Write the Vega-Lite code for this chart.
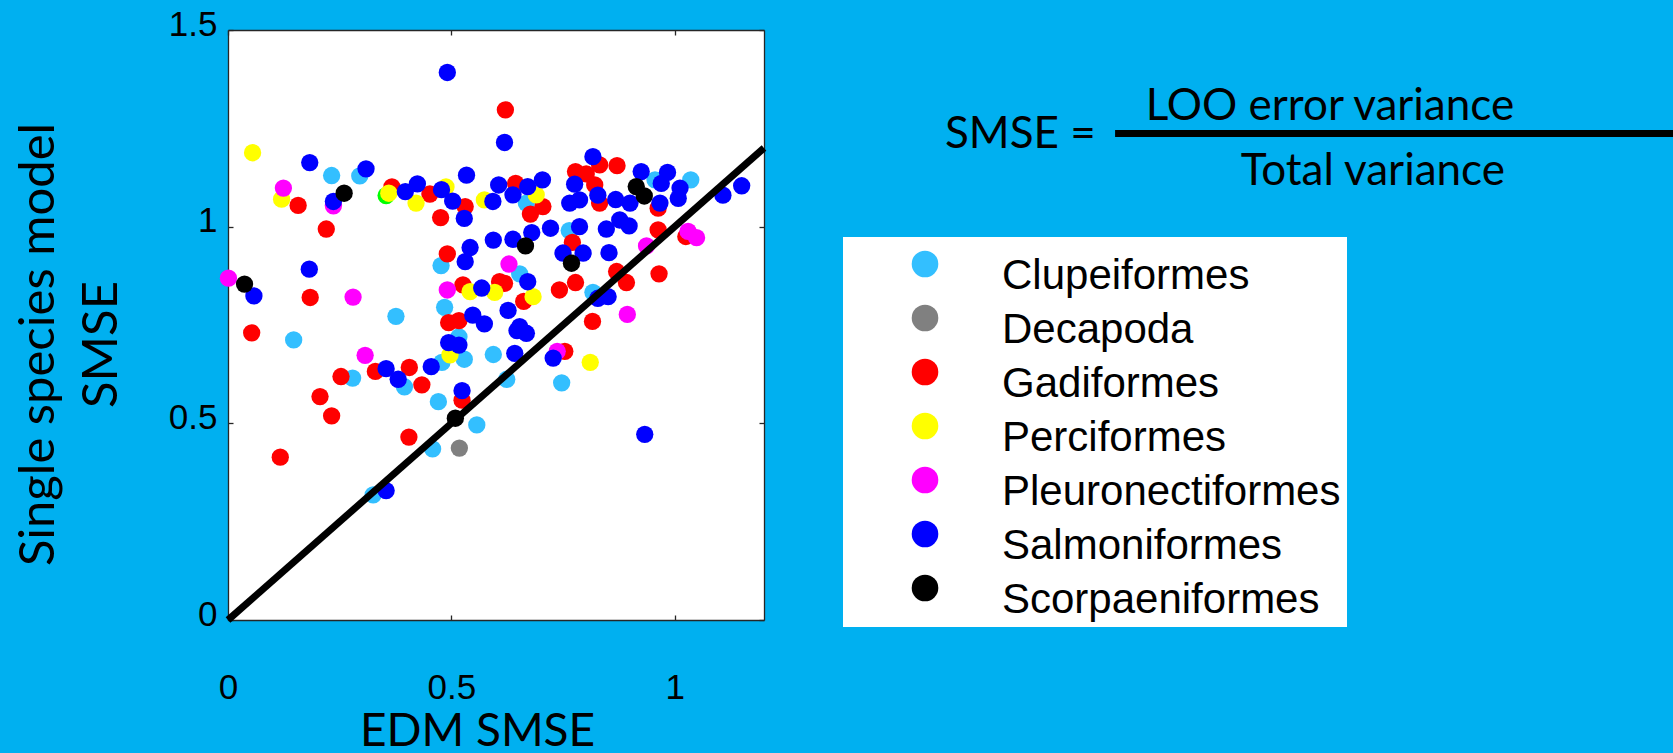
{
  "$schema": "https://vega.github.io/schema/vega-lite/v6.json",
  "width": 536,
  "height": 590,
  "autosize": "none",
  "padding": {"left": 228, "top": 30, "right": 909, "bottom": 133},
  "background": "#00B0F0",
  "config": {"view": {"fill": "white", "stroke": null}},
  "layer": [
    {
      "data": {"values": [
        {"g": "Other", "edm": 0.354, "ss": 1.079},
        {"g": "Clupeiformes", "edm": 0.232, "ss": 1.130},
        {"g": "Clupeiformes", "edm": 0.295, "ss": 1.129},
        {"g": "Clupeiformes", "edm": 0.376, "ss": 0.772},
        {"g": "Clupeiformes", "edm": 0.147, "ss": 0.712},
        {"g": "Clupeiformes", "edm": 0.477, "ss": 0.901},
        {"g": "Clupeiformes", "edm": 0.485, "ss": 0.795},
        {"g": "Clupeiformes", "edm": 0.517, "ss": 0.720},
        {"g": "Clupeiformes", "edm": 0.594, "ss": 0.675},
        {"g": "Clupeiformes", "edm": 0.279, "ss": 0.615},
        {"g": "Clupeiformes", "edm": 0.395, "ss": 0.593},
        {"g": "Clupeiformes", "edm": 0.479, "ss": 0.655},
        {"g": "Clupeiformes", "edm": 0.529, "ss": 0.663},
        {"g": "Clupeiformes", "edm": 0.624, "ss": 0.612},
        {"g": "Clupeiformes", "edm": 0.471, "ss": 0.555},
        {"g": "Clupeiformes", "edm": 0.557, "ss": 0.496},
        {"g": "Clupeiformes", "edm": 0.458, "ss": 0.435},
        {"g": "Clupeiformes", "edm": 0.325, "ss": 0.318},
        {"g": "Clupeiformes", "edm": 0.747, "ss": 0.603},
        {"g": "Clupeiformes", "edm": 0.956, "ss": 1.119},
        {"g": "Clupeiformes", "edm": 1.036, "ss": 1.119},
        {"g": "Clupeiformes", "edm": 0.668, "ss": 1.060},
        {"g": "Clupeiformes", "edm": 0.764, "ss": 0.990},
        {"g": "Clupeiformes", "edm": 0.653, "ss": 0.880},
        {"g": "Clupeiformes", "edm": 0.817, "ss": 0.833},
        {"g": "Decapoda", "edm": 0.518, "ss": 0.437},
        {"g": "Gadiformes", "edm": 0.157, "ss": 1.054},
        {"g": "Gadiformes", "edm": 0.220, "ss": 0.994},
        {"g": "Gadiformes", "edm": 0.367, "ss": 1.101},
        {"g": "Gadiformes", "edm": 0.452, "ss": 1.083},
        {"g": "Gadiformes", "edm": 0.531, "ss": 1.051},
        {"g": "Gadiformes", "edm": 0.476, "ss": 1.023},
        {"g": "Gadiformes", "edm": 0.621, "ss": 1.297},
        {"g": "Gadiformes", "edm": 0.184, "ss": 0.820},
        {"g": "Gadiformes", "edm": 0.053, "ss": 0.730},
        {"g": "Gadiformes", "edm": 0.491, "ss": 0.931},
        {"g": "Gadiformes", "edm": 0.526, "ss": 0.852},
        {"g": "Gadiformes", "edm": 0.608, "ss": 0.860},
        {"g": "Gadiformes", "edm": 0.494, "ss": 0.756},
        {"g": "Gadiformes", "edm": 0.517, "ss": 0.761},
        {"g": "Gadiformes", "edm": 0.253, "ss": 0.619},
        {"g": "Gadiformes", "edm": 0.330, "ss": 0.632},
        {"g": "Gadiformes", "edm": 0.406, "ss": 0.642},
        {"g": "Gadiformes", "edm": 0.434, "ss": 0.598},
        {"g": "Gadiformes", "edm": 0.206, "ss": 0.568},
        {"g": "Gadiformes", "edm": 0.232, "ss": 0.519},
        {"g": "Gadiformes", "edm": 0.117, "ss": 0.414},
        {"g": "Gadiformes", "edm": 0.524, "ss": 0.559},
        {"g": "Gadiformes", "edm": 0.405, "ss": 0.465},
        {"g": "Gadiformes", "edm": 0.754, "ss": 0.683},
        {"g": "Gadiformes", "edm": 0.832, "ss": 1.157},
        {"g": "Gadiformes", "edm": 0.871, "ss": 1.155},
        {"g": "Gadiformes", "edm": 0.778, "ss": 1.140},
        {"g": "Gadiformes", "edm": 0.802, "ss": 1.134},
        {"g": "Gadiformes", "edm": 0.963, "ss": 1.047},
        {"g": "Gadiformes", "edm": 0.832, "ss": 1.060},
        {"g": "Gadiformes", "edm": 0.821, "ss": 1.106},
        {"g": "Gadiformes", "edm": 0.644, "ss": 1.110},
        {"g": "Gadiformes", "edm": 0.705, "ss": 1.051},
        {"g": "Gadiformes", "edm": 0.677, "ss": 1.032},
        {"g": "Gadiformes", "edm": 0.771, "ss": 0.960},
        {"g": "Gadiformes", "edm": 0.963, "ss": 0.992},
        {"g": "Gadiformes", "edm": 1.025, "ss": 0.975},
        {"g": "Gadiformes", "edm": 0.965, "ss": 0.880},
        {"g": "Gadiformes", "edm": 0.870, "ss": 0.886},
        {"g": "Gadiformes", "edm": 0.892, "ss": 0.858},
        {"g": "Gadiformes", "edm": 0.778, "ss": 0.858},
        {"g": "Gadiformes", "edm": 0.742, "ss": 0.839},
        {"g": "Gadiformes", "edm": 0.619, "ss": 0.856},
        {"g": "Gadiformes", "edm": 0.662, "ss": 0.810},
        {"g": "Gadiformes", "edm": 0.816, "ss": 0.759},
        {"g": "Perciformes", "edm": 0.055, "ss": 1.188},
        {"g": "Perciformes", "edm": 0.120, "ss": 1.070},
        {"g": "Perciformes", "edm": 0.360, "ss": 1.085},
        {"g": "Perciformes", "edm": 0.421, "ss": 1.060},
        {"g": "Perciformes", "edm": 0.488, "ss": 1.101},
        {"g": "Perciformes", "edm": 0.574, "ss": 1.068},
        {"g": "Perciformes", "edm": 0.542, "ss": 0.835},
        {"g": "Perciformes", "edm": 0.597, "ss": 0.833},
        {"g": "Perciformes", "edm": 0.497, "ss": 0.674},
        {"g": "Perciformes", "edm": 0.690, "ss": 1.081},
        {"g": "Perciformes", "edm": 0.683, "ss": 0.822},
        {"g": "Perciformes", "edm": 0.811, "ss": 0.655},
        {"g": "Pleuronectiformes", "edm": 0.124, "ss": 1.098},
        {"g": "Pleuronectiformes", "edm": 0.236, "ss": 1.053},
        {"g": "Pleuronectiformes", "edm": 0.001, "ss": 0.869},
        {"g": "Pleuronectiformes", "edm": 0.280, "ss": 0.821},
        {"g": "Pleuronectiformes", "edm": 0.307, "ss": 0.673},
        {"g": "Pleuronectiformes", "edm": 0.491, "ss": 0.839},
        {"g": "Pleuronectiformes", "edm": 1.030, "ss": 0.988},
        {"g": "Pleuronectiformes", "edm": 1.049, "ss": 0.972},
        {"g": "Pleuronectiformes", "edm": 0.937, "ss": 0.951},
        {"g": "Pleuronectiformes", "edm": 0.629, "ss": 0.905},
        {"g": "Pleuronectiformes", "edm": 0.894, "ss": 0.777},
        {"g": "Pleuronectiformes", "edm": 0.737, "ss": 0.683},
        {"g": "Salmoniformes", "edm": 0.183, "ss": 1.163},
        {"g": "Salmoniformes", "edm": 0.309, "ss": 1.147},
        {"g": "Salmoniformes", "edm": 0.236, "ss": 1.064},
        {"g": "Salmoniformes", "edm": 0.397, "ss": 1.089},
        {"g": "Salmoniformes", "edm": 0.424, "ss": 1.109},
        {"g": "Salmoniformes", "edm": 0.478, "ss": 1.094},
        {"g": "Salmoniformes", "edm": 0.503, "ss": 1.065},
        {"g": "Salmoniformes", "edm": 0.529, "ss": 1.021},
        {"g": "Salmoniformes", "edm": 0.534, "ss": 1.131},
        {"g": "Salmoniformes", "edm": 0.619, "ss": 1.214},
        {"g": "Salmoniformes", "edm": 0.182, "ss": 0.892},
        {"g": "Salmoniformes", "edm": 0.058, "ss": 0.824},
        {"g": "Salmoniformes", "edm": 0.594, "ss": 0.966},
        {"g": "Salmoniformes", "edm": 0.542, "ss": 0.947},
        {"g": "Salmoniformes", "edm": 0.531, "ss": 0.911},
        {"g": "Salmoniformes", "edm": 0.568, "ss": 0.844},
        {"g": "Salmoniformes", "edm": 0.548, "ss": 0.775},
        {"g": "Salmoniformes", "edm": 0.574, "ss": 0.753},
        {"g": "Salmoniformes", "edm": 0.494, "ss": 0.705},
        {"g": "Salmoniformes", "edm": 0.517, "ss": 0.699},
        {"g": "Salmoniformes", "edm": 0.354, "ss": 0.639},
        {"g": "Salmoniformes", "edm": 0.381, "ss": 0.612},
        {"g": "Salmoniformes", "edm": 0.455, "ss": 0.644},
        {"g": "Salmoniformes", "edm": 0.642, "ss": 0.678},
        {"g": "Salmoniformes", "edm": 0.524, "ss": 0.583},
        {"g": "Salmoniformes", "edm": 0.354, "ss": 0.329},
        {"g": "Salmoniformes", "edm": 0.491, "ss": 1.392},
        {"g": "Salmoniformes", "edm": 0.817, "ss": 1.178},
        {"g": "Salmoniformes", "edm": 0.925, "ss": 1.140},
        {"g": "Salmoniformes", "edm": 0.984, "ss": 1.138},
        {"g": "Salmoniformes", "edm": 0.970, "ss": 1.110},
        {"g": "Salmoniformes", "edm": 1.012, "ss": 1.098},
        {"g": "Salmoniformes", "edm": 1.008, "ss": 1.072},
        {"g": "Salmoniformes", "edm": 0.967, "ss": 1.060},
        {"g": "Salmoniformes", "edm": 1.150, "ss": 1.104},
        {"g": "Salmoniformes", "edm": 1.108, "ss": 1.080},
        {"g": "Salmoniformes", "edm": 0.900, "ss": 1.060},
        {"g": "Salmoniformes", "edm": 0.868, "ss": 1.069},
        {"g": "Salmoniformes", "edm": 0.828, "ss": 1.080},
        {"g": "Salmoniformes", "edm": 0.776, "ss": 1.108},
        {"g": "Salmoniformes", "edm": 0.787, "ss": 1.068},
        {"g": "Salmoniformes", "edm": 0.765, "ss": 1.060},
        {"g": "Salmoniformes", "edm": 0.704, "ss": 1.119},
        {"g": "Salmoniformes", "edm": 0.671, "ss": 1.102},
        {"g": "Salmoniformes", "edm": 0.638, "ss": 1.081},
        {"g": "Salmoniformes", "edm": 0.606, "ss": 1.106},
        {"g": "Salmoniformes", "edm": 0.593, "ss": 1.064},
        {"g": "Salmoniformes", "edm": 0.722, "ss": 0.996},
        {"g": "Salmoniformes", "edm": 0.680, "ss": 0.985},
        {"g": "Salmoniformes", "edm": 0.638, "ss": 0.968},
        {"g": "Salmoniformes", "edm": 0.787, "ss": 1.000},
        {"g": "Salmoniformes", "edm": 0.750, "ss": 0.933},
        {"g": "Salmoniformes", "edm": 0.795, "ss": 0.933},
        {"g": "Salmoniformes", "edm": 0.847, "ss": 0.994},
        {"g": "Salmoniformes", "edm": 0.877, "ss": 1.017},
        {"g": "Salmoniformes", "edm": 0.898, "ss": 1.002},
        {"g": "Salmoniformes", "edm": 0.853, "ss": 0.934},
        {"g": "Salmoniformes", "edm": 0.671, "ss": 0.860},
        {"g": "Salmoniformes", "edm": 0.627, "ss": 0.787},
        {"g": "Salmoniformes", "edm": 0.653, "ss": 0.746},
        {"g": "Salmoniformes", "edm": 0.851, "ss": 0.822},
        {"g": "Salmoniformes", "edm": 0.828, "ss": 0.818},
        {"g": "Salmoniformes", "edm": 0.647, "ss": 0.736},
        {"g": "Salmoniformes", "edm": 0.668, "ss": 0.729},
        {"g": "Salmoniformes", "edm": 0.728, "ss": 0.666},
        {"g": "Salmoniformes", "edm": 0.933, "ss": 0.472},
        {"g": "Scorpaeniformes", "edm": 0.260, "ss": 1.085},
        {"g": "Scorpaeniformes", "edm": 0.037, "ss": 0.854},
        {"g": "Scorpaeniformes", "edm": 0.509, "ss": 0.513},
        {"g": "Scorpaeniformes", "edm": 0.914, "ss": 1.102},
        {"g": "Scorpaeniformes", "edm": 0.932, "ss": 1.078},
        {"g": "Scorpaeniformes", "edm": 0.666, "ss": 0.951},
        {"g": "Scorpaeniformes", "edm": 0.769, "ss": 0.907}
      ]},
      "mark": {"type": "point", "filled": true, "size": 300, "opacity": 1, "strokeWidth": 0},
      "encoding": {
        "x": {
          "field": "edm", "type": "quantitative",
          "scale": {"domain": [0, 1.2], "nice": false, "zero": false},
          "axis": {
            "orient": "bottom", "values": [0, 0.5, 1], "format": "~g", "grid": false,
            "tickSize": -5, "tickColor": "#262626", "tickWidth": 1.3,
            "domainColor": "#262626", "domainWidth": 1.3,
            "labelFont": "Liberation Sans", "labelFontSize": 35, "labelColor": "black",
            "labelBaseline": "alphabetic", "labelPadding": 83, "labelFlush": false, "labelAlign": "center",
            "title": "EDM SMSE", "titleFont": "Lato", "titleFontSize": 46, "titleFontWeight": "normal",
            "titleColor": "black", "titleX": 249, "titleY": 125, "titleBaseline": "alphabetic", "titleAlign": "center"
          }
        },
        "y": {
          "field": "ss", "type": "quantitative",
          "scale": {"domain": [0, 1.5], "nice": false, "zero": false},
          "axis": {
            "orient": "left", "values": [0, 0.5, 1, 1.5], "format": "~g", "grid": false,
            "tickSize": -5, "tickColor": "#262626", "tickWidth": 1.3,
            "domainColor": "#262626", "domainWidth": 1.3,
            "labelFont": "Liberation Sans", "labelFontSize": 35, "labelColor": "black",
            "labelBaseline": "alphabetic", "labelPadding": 16, "labelOffset": 5, "labelAlign": "right", "labelFlush": false,
            "title": ["Single species model", "SMSE"], "titleFont": "Lato", "titleFontSize": 49, "titleFontWeight": "normal",
            "titleColor": "black", "titleAngle": 270, "titleX": -175, "titleY": 314,
            "titleBaseline": "alphabetic", "titleAlign": "center", "titleLineHeight": 63
          }
        },
        "color": {
          "field": "g", "type": "nominal",
          "scale": {
            "domain": ["Clupeiformes", "Decapoda", "Gadiformes", "Perciformes", "Pleuronectiformes", "Salmoniformes", "Scorpaeniformes", "Other"],
            "range": ["#33BFFF", "#808080", "#FF0000", "#FFFF00", "#FF00FF", "#0000FF", "#000000", "#00FF00"]
          },
          "legend": {
            "values": ["Clupeiformes", "Decapoda", "Gadiformes", "Perciformes", "Pleuronectiformes", "Salmoniformes", "Scorpaeniformes"],
            "title": null, "orient": "none", "legendX": 615, "legendY": 207, "direction": "vertical",
            "fillColor": "white", "strokeColor": null, "padding": 6,
            "symbolType": "circle", "symbolSize": 707, "symbolStrokeWidth": 0, "symbolOpacity": 1,
            "symbolOffset": 55, "labelOffset": 56, "rowPadding": 0,
            "labelFont": "Liberation Sans", "labelFontSize": 42, "labelColor": "black", "labelLimit": 1000,
            "labelBaseline": "middle",
            "encoding": {"labels": {"dy": {"value": 12}}}
          }
        }
      }
    },
    {
      "data": {"values": [{}]},
      "mark": {"type": "rule", "strokeWidth": 7, "color": "black"},
      "encoding": {
        "x": {
          "datum": 0, "type": "quantitative",
          "scale": {"domain": [0, 1.2], "nice": false, "zero": false},
          "axis": {
            "orient": "top", "values": [0, 0.5, 1], "labels": false, "grid": false, "title": null,
            "tickSize": -5, "tickColor": "#262626", "tickWidth": 1.3,
            "domainColor": "#262626", "domainWidth": 1.3
          }
        },
        "y": {
          "datum": 0, "type": "quantitative",
          "scale": {"domain": [0, 1.5], "nice": false, "zero": false},
          "axis": {
            "orient": "right", "values": [0, 0.5, 1, 1.5], "labels": false, "grid": false, "title": null,
            "tickSize": -5, "tickColor": "#262626", "tickWidth": 1.3,
            "domainColor": "#262626", "domainWidth": 1.3
          }
        },
        "x2": {"datum": 1.2},
        "y2": {"datum": 1.2}
      }
    },
    {
      "data": {"values": [{}]},
      "mark": {"type": "text", "text": "SMSE =", "font": "Lato", "fontSize": 44, "color": "black", "align": "center", "baseline": "middle"},
      "encoding": {
        "x": {"datum": 1.774, "type": "quantitative", "scale": {"domain": [0, 1.2], "nice": false, "zero": false}, "axis": null},
        "y": {"datum": 1.232, "type": "quantitative", "scale": {"domain": [0, 1.5], "nice": false, "zero": false}, "axis": null}
      }
    },
    {
      "data": {"values": [{}]},
      "mark": {"type": "text", "text": "LOO error variance", "font": "Lato", "fontSize": 44, "color": "black", "align": "center", "baseline": "middle"},
      "encoding": {
        "x": {"datum": 2.467, "type": "quantitative", "scale": {"domain": [0, 1.2], "nice": false, "zero": false}, "axis": null},
        "y": {"datum": 1.305, "type": "quantitative", "scale": {"domain": [0, 1.5], "nice": false, "zero": false}, "axis": null}
      }
    },
    {
      "data": {"values": [{}]},
      "mark": {"type": "text", "text": "Total variance", "font": "Lato", "fontSize": 44, "color": "black", "align": "center", "baseline": "middle"},
      "encoding": {
        "x": {"datum": 2.563, "type": "quantitative", "scale": {"domain": [0, 1.2], "nice": false, "zero": false}, "axis": null},
        "y": {"datum": 1.1395, "type": "quantitative", "scale": {"domain": [0, 1.5], "nice": false, "zero": false}, "axis": null}
      }
    },
    {
      "data": {"values": [{}]},
      "mark": {"type": "rule", "strokeWidth": 7, "color": "black"},
      "encoding": {
        "x": {"datum": 1.986, "type": "quantitative", "scale": {"domain": [0, 1.2], "nice": false, "zero": false}, "axis": null},
        "x2": {"datum": 3.3},
        "y": {"datum": 1.237, "type": "quantitative", "scale": {"domain": [0, 1.5], "nice": false, "zero": false}, "axis": null}
      }
    }
  ],
  "resolve": {"axis": {"x": "independent", "y": "independent"}}
}
